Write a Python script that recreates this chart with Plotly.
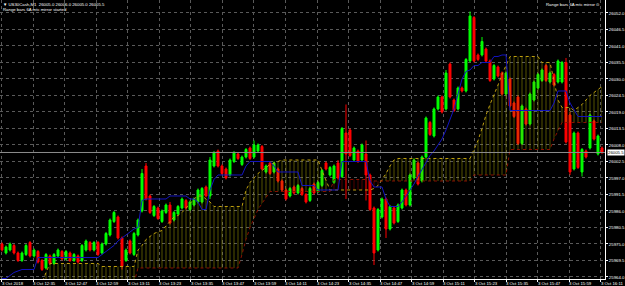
import numpy as np
import plotly.graph_objects as go

bar_index = list(range(151))

open_ = [25975, 25972, 25973, 25974.5, 25972, 25969.5, 25971.5, 25975.5, 25971, 25972.5,
         25969.5, 25967, 25971, 25968.5, 25971, 25972.5, 25970, 25972, 25969.5, 25971,
         25969.5, 25973, 25975.5, 25973, 25975.5, 25972, 25975, 25978, 25982.5, 25984,
         25977, 25969.5, 25976, 25971.5, 25978, 25986, 26001, 25991, 25984.5, 25987,
         25982.5, 25985.5, 25988, 25983, 25985, 25987, 25989.5, 25986.5, 25988, 25989,
         25989, 25994, 25991, 26001, 26006, 26001, 26000, 25998, 26002.5, 26005,
         26001.5, 26004, 26007, 26004, 26006, 26007.5, 25999, 26002, 25999, 26000,
         25996, 25993, 25991, 25994, 25992, 25993.5, 25991.5, 25989.5, 25995, 25992.5,
         25994.5, 26002, 25998, 25995.5, 26002, 25997.5, 26012, 26013, 26003, 26006,
         26003, 26005, 25998, 25987, 25973, 25984, 25990, 25980, 25987, 25982.5,
         25987, 25993, 25988, 25997, 26002, 25996, 26004, 26015.5, 26011, 26020,
         26024, 26020, 26035, 26023, 26020, 26027, 26026, 26036, 26050.5, 26038,
         26038, 26040, 26036, 26030, 26034, 26032, 26025, 26030, 26022, 26024,
         26008.5, 26020, 26015, 26023, 26027, 26029.5, 26034.5, 26029, 26031.5, 26029,
         26029, 26035.5, 26018, 26000, 26012, 25999, 26006, 26007, 26016, 26005,
         26007]
high = [25975.5, 25974.5, 25975.5, 25975, 25972.5, 25972.5, 25975, 25976, 25973.5, 25973,
        25970, 25972, 25971.5, 25972, 25973.5, 25973, 25973, 25972.5, 25972, 25971.5,
        25975, 25976.5, 25976, 25976, 25976, 25975.5, 25979, 25983.5, 25986, 25984.5,
        25977.5, 25973.5, 25976.5, 25979, 25983.5, 26000, 26002, 25991.5, 25988, 25987.5,
        25986.5, 25988.5, 25989, 25986, 25988, 25990.5, 25990, 25989.5, 25990.5, 25993.5,
        25994, 25994.5, 26004, 26006, 26006.5, 26001.5, 26000.5, 26003.5, 26006, 26005.5,
        26004.5, 26007, 26007.5, 26009.5, 26008.5, 26008, 26001.5, 26002.5, 26002.5, 26000.5,
        25996.5, 25993.5, 25994, 25994.5, 25995, 25994, 25992, 25994, 25995.5, 25996,
        26000, 26002.5, 26001, 26001.5, 26003, 26014, 26021.5, 26013.5, 26007.5, 26006.5,
        26008.5, 26009.5, 25998.5, 25987.5, 25987, 25990.5, 25990.5, 25988, 25987.5, 25988.5,
        25993.5, 25993.5, 25998.5, 26003.5, 26002.5, 26004.5, 26017.5, 26016, 26020.5, 26024.5,
        26024.5, 26033, 26035.5, 26023.5, 26027.5, 26027.5, 26037, 26052.5, 26051, 26038.5,
        26044, 26040.5, 26036.5, 26035, 26034.5, 26032.5, 26032.5, 26030.5, 26022.5, 26024.5,
        26021.5, 26020.5, 26025.5, 26029.5, 26032, 26033.5, 26035, 26032.5, 26032, 26036.5,
        26036, 26037, 26019, 26012.5, 26012.5, 26007, 26006.5, 26018.5, 26016.5, 26011.5,
        26007.5]
low = [25972.5, 25971.5, 25972.5, 25971.5, 25969, 25969, 25971, 25970.5, 25970.5, 25968.5,
       25966, 25966.5, 25968, 25968, 25970.5, 25969.5, 25969.5, 25969, 25969, 25968.5,
       25969, 25972.5, 25972.5, 25972.5, 25971, 25971.5, 25974.5, 25977.5, 25982, 25976.5,
       25966.5, 25969, 25971.5, 25971, 25977.5, 25985.5, 25989.5, 25985, 25984, 25983,
       25982, 25985, 25981.5, 25982.5, 25984.5, 25986.5, 25986.5, 25986, 25987.5, 25988.5,
       25988.5, 25990.5, 25990, 26000.5, 26000.5, 25998, 25996.5, 25997.5, 26002, 26003,
       26001, 26003.5, 26003, 26003.5, 26005.5, 25999.5, 25998.5, 25998, 25998.5, 25995.5,
       25992.5, 25989.5, 25990.5, 25991.5, 25991.5, 25991, 25988.5, 25989, 25991.5, 25992,
       25994, 25999.5, 25997.5, 25995, 25996.5, 25997, 25990, 26004, 26002.5, 26002,
       26002.5, 25989.5, 25986, 25968, 25972.5, 25983.5, 25977, 25979.5, 25981.5, 25982,
       25986.5, 25987.5, 25987.5, 25996.5, 25994.5, 25995.5, 26003.5, 26011, 26010.5, 26019.5,
       26018.5, 26019.5, 26023.5, 26019, 26019.5, 26025.5, 26025.5, 26035.5, 26035.5, 26036,
       26037.5, 26035.5, 26029, 26029.5, 26030.5, 26024.5, 26024.5, 26020.5, 26017, 26008,
       26008, 26014.5, 26014.5, 26022.5, 26026.5, 26029, 26029, 26028.5, 26027.5, 26028.5,
       26028.5, 26008.5, 25998, 25999.5, 26000, 25997.5, 26003.5, 26006.5, 26009.5, 26004.5,
       26005]
close = [25973, 25974, 25975, 25972, 25969.5, 25972, 25974.5, 25971, 25973, 25969,
         25966.5, 25971.5, 25968.5, 25971.5, 25973, 25970, 25972.5, 25969.5, 25971.5, 25969,
         25974.5, 25976, 25973, 25975.5, 25971.5, 25975, 25978.5, 25983, 25985.5, 25977,
         25967.5, 25973, 25972, 25978.5, 25983, 25998.5, 25990, 25985.5, 25987.5, 25983.5,
         25986, 25988, 25982, 25985.5, 25987.5, 25990, 25987, 25989, 25990, 25993,
         25993.5, 25991, 26003, 26005.5, 26001, 25998.5, 25997, 26003, 26005.5, 26003.5,
         26004, 26006.5, 26003.5, 26008, 26008, 26000, 26001, 25998.5, 26002, 25996,
         25993, 25990, 25993.5, 25992, 25994.5, 25991.5, 25989, 25993.5, 25992, 25995.5,
         25999.5, 26000, 26000.5, 26001, 25997, 26013.5, 26005, 26004.5, 26007, 26002.5,
         26008, 25998, 25986.5, 25972, 25986.5, 25990, 25980, 25987.5, 25982, 25988,
         25993, 25988, 25998, 26003, 25995, 26004, 26017, 26011.5, 26020, 26024,
         26019, 26032, 26024, 26019.5, 26027, 26026, 26036.5, 26051, 26036, 26036.5,
         26042.5, 26036, 26029.5, 26034.5, 26031, 26025, 26032, 26021, 26017.5, 26008.5,
         26021, 26015, 26025, 26029, 26031.5, 26033, 26029.5, 26032, 26028, 26036,
         26035.5, 26009, 25999, 26012, 26000.5, 26006.5, 26004, 26018, 26010, 26011,
         26005.5]

kijun = [25963.5, 25963.5, 25964.5, 25965.5, 25966, 25966.5, 25966.5, 25966.5, 25966.5, 25970.5,
         25970.5, 25970.5, 25970.5, 25970.5, 25970.5, 25970.5, 25970.5, 25970.5, 25970.5, 25970.5,
         25970.5, 25970.5, 25970.5, 25970.5, 25970.5, 25971.5, 25972.5, 25973.5, 25974.5, 25976,
         25977, 25978, 25979, 25980, 25980.5, 25989.5, 25990, 25990, 25990, 25990,
         25990, 25990, 25991, 25991, 25991, 25991, 25991, 25990, 25990, 25989,
         25986.5, 25986.5, 25993, 25996.5, 25998, 25998, 25998, 25998, 25998, 25998,
         25998, 26001, 26002.5, 26002.5, 26002.5, 26002.5, 26002.5, 26002.5, 26001, 25999,
         25999, 25999, 25999, 25999, 25999, 25994.5, 25994.5, 25994.5, 25994.5, 25993,
         25993, 25993, 25993, 25993, 25993, 26002.5, 26002.5, 26002.5, 26002.5, 26002.5,
         26002.5, 26002.5, 25996, 25994, 25994, 25994, 25990, 25987.5, 25987.5, 25987.5,
         25989, 25991, 25993, 25995, 25997.5, 26000, 26002.5, 26004.5, 26006, 26008,
         26010, 26013, 26016.5, 26020, 26025, 26030, 26032.5, 26033, 26034.5, 26034.5,
         26035.5, 26035.5, 26035.5, 26037.5, 26037.5, 26038, 26038, 26019.5, 26019.5, 26019.5,
         26019.5, 26019.5, 26019.5, 26019.5, 26019.5, 26019.5, 26019.5, 26019.5, 26022, 26026,
         26026, 26026, 26022, 26019.5, 26017.5, 26017.5, 26017.5, 26017.5, 26017.5, 26017.5,
         26017.5]

span_a = [25962, 25962, 25962, 25962, 25962, 25962, 25962, 25962, 25962, 25962,
          25962, 25965.5, 25968.5, 25968.5, 25968.5, 25968.5, 25968.5, 25968.5, 25968.5, 25968.5,
          25968.5, 25968.5, 25968.5, 25968.5, 25968.5, 25967.5, 25967.5, 25967.5, 25967.5, 25967.5,
          25967.5, 25967.5, 25967.5, 25967.5, 25973, 25974.5, 25976.5, 25977.5, 25978.5, 25979,
          25979.5, 25981, 25982.5, 25984, 25984.5, 25985.5, 25987, 25988.5, 25990, 25991,
          25991, 25990, 25989, 25987.5, 25987.5, 25987.5, 25987.5, 25987.5, 25987.5, 25987.5,
          25987.5, 25993, 25995.5, 25997, 25998.5, 25999.5, 26000.5, 26001.5, 26002, 26002.5,
          26003, 26003, 26003, 26003, 26003, 26003, 26003, 26003, 26003, 26003,
          25999.5, 25996.5, 25993, 25993, 25993, 25993, 25993, 25993, 25993, 25993,
          25993, 25993, 25993, 25993.5, 25994.5, 25996.5, 25998.5, 26001, 26003, 26003.5,
          26003.5, 26003.5, 26003.5, 26003.5, 26003.5, 26003.5, 26003.5, 26003.5, 26003.5, 26003.5,
          26003.5, 26003.5, 26003.5, 26003.5, 26003.5, 26003.5, 26003.5, 26003.5, 26006.5, 26009.5,
          26013.5, 26018, 26021.5, 26024.5, 26028, 26031.5, 26034.5, 26037.5, 26037.5, 26037.5,
          26037.5, 26037.5, 26037.5, 26037.5, 26037.5, 26035.5, 26035.5, 26035.5, 26029.5, 26023,
          26020.5, 26020.5, 26020.5, 26019.5, 26020.5, 26021.5, 26023, 26024.5, 26025.5, 26026.5,
          26027.5]

span_b = [25962, 25962, 25962, 25962, 25962, 25962, 25962, 25962, 25962, 25962,
          25962, 25962, 25962, 25962, 25962, 25962, 25962, 25962, 25962, 25962,
          25962, 25962, 25962, 25962, 25962, 25962, 25962, 25962, 25962, 25962,
          25962, 25962, 25962, 25962, 25967, 25967, 25967, 25967, 25967, 25967,
          25967, 25967, 25967, 25967, 25967, 25967, 25967, 25967, 25967, 25967,
          25967, 25967, 25967, 25967, 25967, 25967, 25967, 25967, 25967, 25967,
          25971.5, 25976.5, 25980.5, 25983.5, 25986.5, 25988.5, 25990.5, 25992.5, 25992.5, 25992.5,
          25992.5, 25992.5, 25992.5, 25992.5, 25992.5, 25992.5, 25992.5, 25992.5, 25992.5, 25992.5,
          25992.5, 25992.5, 25992.5, 25996.5, 25996.5, 25996.5, 25996.5, 25996.5, 25996.5, 25996.5,
          25996.5, 25996.5, 25996.5, 25996, 25996, 25996, 25996, 25996, 25996, 25996,
          25996, 25996, 25996, 25996, 25996, 25996, 25996, 25996, 25996, 25996,
          25996, 25996, 25996, 25996, 25996, 25996, 25996, 25996, 25998, 25998,
          25998, 25998, 25998, 25998, 25998, 25998, 25998, 26006.5, 26006.5, 26006.5,
          26006.5, 26006.5, 26006.5, 26006.5, 26006.5, 26006.5, 26006.5, 26006.5, 26010, 26013,
          26015.5, 26015.5, 26015.5, 26015.5, 26015.5, 26015.5, 26015.5, 26015.5, 26015.5, 26015.5,
          26015.5]

time_labels = ["3 Oct 2018", "3 Oct 12:35", "3 Oct 12:47", "3 Oct 12:59", "3 Oct 13:11",
               "3 Oct 13:23", "3 Oct 13:35", "3 Oct 13:47", "3 Oct 13:59", "3 Oct 14:11",
               "3 Oct 14:23", "3 Oct 14:35", "3 Oct 14:47", "3 Oct 14:59", "3 Oct 15:11",
               "3 Oct 15:23", "3 Oct 15:35", "3 Oct 15:47", "3 Oct 15:59", "3 Oct 16:11"]
price_ticks = [25964.0, 25969.5, 25975.0, 25980.5, 25986.0, 25991.5, 25997.0, 26002.5, 26008.0,
               26013.5, 26019.0, 26024.5, 26030.0, 26035.5, 26041.0, 26046.5, 26052.0]
last_price = 26005.5
header_1 = "\u25bc US30Cash,M1  26005.0 26006.0 26005.0 26005.5"
header_2 = "Range bars 6A mtc mirror started"
header_right = "Range bars 6A mtc mirror \u2299"

FONT = "Liberation Sans"
FS = 4.3

a = np.array(span_a)
b = np.array(span_b)
lo = np.minimum(a, b)

fig = go.Figure()
# yellow cloud (span A above span B)
fig.add_trace(go.Scatter(x=bar_index, y=lo, mode="lines", line=dict(width=0), hoverinfo="skip"))
fig.add_trace(go.Scatter(x=bar_index, y=a, mode="lines", line=dict(width=0), fill="tonexty",
                         fillcolor="rgba(0,0,0,0)",
                         fillpattern=dict(shape="|", fgcolor="#a8a200", size=4, solidity=0.25),
                         hoverinfo="skip"))
# red cloud (span B above span A)
fig.add_trace(go.Scatter(x=bar_index, y=lo, mode="lines", line=dict(width=0), hoverinfo="skip"))
fig.add_trace(go.Scatter(x=bar_index, y=b, mode="lines", line=dict(width=0), fill="tonexty",
                         fillcolor="rgba(0,0,0,0)",
                         fillpattern=dict(shape="|", fgcolor="#a00000", size=4, solidity=0.25),
                         hoverinfo="skip"))
fig.add_trace(go.Scatter(x=bar_index, y=span_a, mode="lines",
                         line=dict(color="#c0a010", width=1, dash="dot")))
fig.add_trace(go.Scatter(x=bar_index, y=span_b, mode="lines",
                         line=dict(color="#8b1000", width=1, dash="dot")))
fig.add_trace(go.Scatter(x=bar_index, y=kijun, mode="lines", line=dict(color="#1414c0", width=1)))
fig.add_trace(go.Candlestick(
    x=bar_index, open=open_, high=high, low=low, close=close, whiskerwidth=0,
    increasing=dict(line=dict(color="#00ff00", width=1), fillcolor="#00ff00"),
    decreasing=dict(line=dict(color="#ff0000", width=1), fillcolor="#ff0000"),
))

fig.add_shape(type="line", xref="paper", x0=0, x1=1, yref="y", y0=last_price, y1=last_price,
              line=dict(color="#8c8c8c", width=1))

tick_pos = [-0.125 + 7.8875 * k for k in range(len(time_labels))]

annotations = [
    dict(x=1, xref="paper", y=last_price, yref="y", xanchor="left", yanchor="middle",
         text=f"{last_price:.1f}", showarrow=False, bgcolor="white", borderpad=0,
         xshift=2, font=dict(family=FONT, size=FS, color="black")),
    dict(x=0, xref="paper", y=1, yref="paper", xanchor="left", yanchor="top",
         text=header_1, showarrow=False, xshift=1, yshift=0,
         font=dict(family=FONT, size=FS, color="white")),
    dict(x=0, xref="paper", y=1, yref="paper", xanchor="left", yanchor="top",
         text=header_2, showarrow=False, xshift=1, yshift=-5,
         font=dict(family=FONT, size=FS, color="white")),
    dict(x=1, xref="paper", y=1, yref="paper", xanchor="right", yanchor="top",
         text=header_right, showarrow=False, xshift=-4, yshift=0,
         font=dict(family=FONT, size=FS, color="white")),
]
for pos, lab in zip(tick_pos, time_labels):
    annotations.append(dict(x=pos, xref="x", y=0, yref="paper", xanchor="left", yanchor="top",
                            text=lab, showarrow=False, borderpad=0, xshift=-1, yshift=-0.5,
                            font=dict(family=FONT, size=FS, color="white")))

fig.update_layout(
    width=625, height=286, showlegend=False,
    margin=dict(l=0, r=20, t=0, b=7),
    paper_bgcolor="black", plot_bgcolor="black",
    font=dict(family=FONT, size=FS, color="white"),
    xaxis=dict(range=[-0.5, 150.75], tickmode="array", tickvals=tick_pos, showticklabels=False,
               ticks="outside", ticklen=2, tickcolor="white",
               showgrid=True, gridcolor="#5a5a5a", griddash="dot", gridwidth=1,
               showline=True, linecolor="white", linewidth=1, zeroline=False,
               automargin=False, rangeslider=dict(visible=False), fixedrange=True),
    yaxis=dict(range=[25963.33, 26056.33], side="right", tickmode="array", tickvals=price_ticks,
               ticktext=[f"{v:.1f}" for v in price_ticks], ticks="outside", ticklen=2,
               tickcolor="white", tickfont=dict(family=FONT, size=FS, color="white"),
               showgrid=True, gridcolor="#5a5a5a", griddash="dot", gridwidth=1,
               showline=True, linecolor="white", linewidth=1, zeroline=False,
               automargin=False, fixedrange=True),
    annotations=annotations,
)

fig.write_html("out.html")
